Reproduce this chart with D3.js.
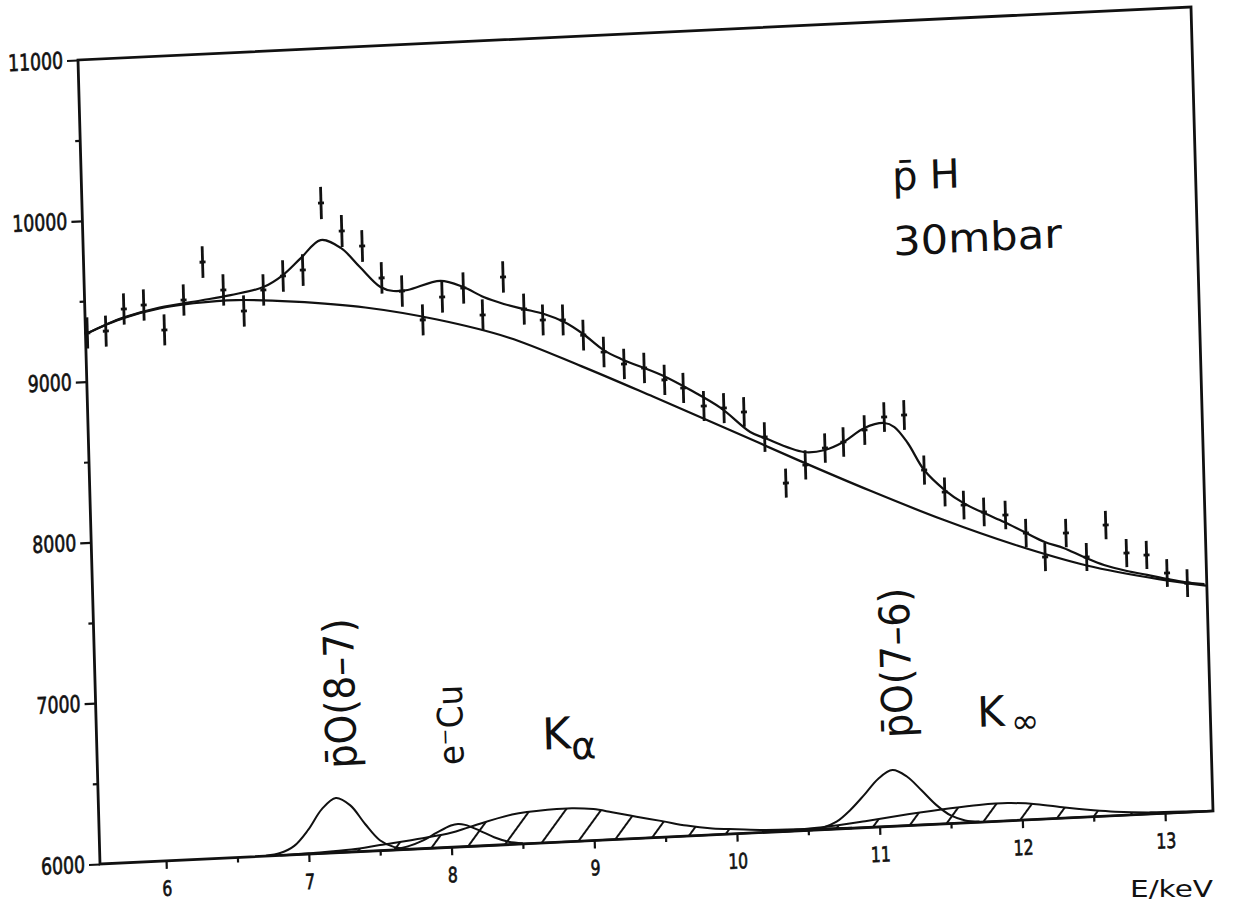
<!DOCTYPE html>
<html>
<head>
<meta charset="utf-8">
<script src="https://cdn.jsdelivr.net/npm/d3@7"></script>
<style>
body { margin: 0; background: #fff; }
svg { display: block; }
text { font-family: "DejaVu Sans", "Liberation Sans", sans-serif; fill: #111; }
</style>
</head>
<body>
<svg id="viz"></svg>
<script>
// measured spectrum (channel energy in keV, counts)
let pointEnergy = [5.55, 5.68, 5.81, 5.95, 6.09, 6.23, 6.37, 6.51, 6.65, 6.79, 6.93, 7.07, 7.21, 7.35, 7.49, 7.62, 7.76, 7.90, 8.04, 8.19,
    8.32, 8.47, 8.61, 8.74, 8.88, 9.02, 9.16, 9.30, 9.44, 9.58, 9.71, 9.85, 9.99, 10.13, 10.27, 10.41, 10.55, 10.69, 10.82, 10.97,
    11.11, 11.25, 11.38, 11.52, 11.65, 11.79, 11.94, 12.08, 12.21, 12.36, 12.50, 12.64, 12.78, 12.92, 13.06, 13.20];
let pointCounts = [9302, 9308, 9440, 9459, 9298, 9478, 9708, 9529, 9392, 9517, 9598, 9629, 10040, 9860, 9761, 9557, 9469, 9284, 9420, 9470,
    9297, 9527, 9321, 9248, 9242, 9142, 9031, 8951, 8920, 8840, 8784, 8666, 8647, 8617, 8455, 8163, 8270, 8369, 8401, 8469,
    8544, 8551, 8203, 8061, 7974, 7925, 7900, 7782, 7627, 7770, 7615, 7808, 7628, 7610, 7492, 7423];

// total fit curve
let fitEnergy = [5.55, 5.68, 5.81, 6.06, 6.35, 6.56, 6.79, 6.93, 7.06, 7.20, 7.34, 7.47, 7.61, 7.70, 7.80, 8.03, 8.19, 8.33, 8.47, 8.61,
    8.75, 8.89, 9.02, 9.16, 9.28, 9.56, 9.76, 9.97, 10.17, 10.27, 10.54, 10.69, 10.82, 10.97, 11.11, 11.18, 11.27, 11.38, 11.52, 11.65,
    11.79, 11.93, 12.07, 12.21, 12.34, 12.48, 12.62, 12.78, 12.92, 13.06, 13.18, 13.32];
let fitCounts = [9300, 9348, 9388, 9438, 9470, 9495, 9535, 9604, 9705, 9810, 9755, 9631, 9501, 9472, 9474, 9521, 9476, 9408, 9359, 9321,
    9285, 9229, 9149, 9043, 8983, 8871, 8769, 8648, 8491, 8449, 8351, 8357, 8401, 8482, 8507, 8479, 8376, 8203, 8073, 7986,
    7918, 7857, 7788, 7721, 7678, 7616, 7560, 7516, 7486, 7455, 7431, 7412];

// background
let bgEnergy = [5.55, 5.68, 5.81, 6.06, 6.3, 6.6, 7.0, 7.5, 8.0, 8.5, 9.0, 9.5, 10.0, 10.5, 11.0, 11.5, 12.0, 12.5, 13.0, 13.33];
let bgCounts = [9300, 9346, 9385, 9433, 9455, 9462, 9435, 9378, 9282, 9148, 8950, 8738, 8522, 8302, 8090, 7890, 7712, 7562, 7456, 7402];

// fit components, drawn from the 6000 floor
let pO87Energy = [6.7, 6.8, 6.9, 7.0, 7.1, 7.2, 7.3, 7.4, 7.5, 7.6, 7.7];
let pO87Counts = [6002, 6015, 6055, 6150, 6275, 6340, 6290, 6170, 6065, 6018, 6003];
let eCuEnergy = [7.6, 7.7, 7.8, 7.9, 8.0, 8.05, 8.1, 8.2, 8.3, 8.4, 8.5];
let eCuCounts = [6004, 6020, 6050, 6095, 6135, 6143, 6135, 6095, 6050, 6018, 6004];
let kaEnergy = [6.8, 7.0, 7.3, 7.5, 7.8, 8.0, 8.13, 8.43, 8.7, 8.85, 9.0, 9.13, 9.3, 9.48, 9.65, 9.83, 10.0, 10.2, 10.5, 10.8];
let kaCounts = [6000, 6005, 6015, 6035, 6065, 6090, 6120, 6185, 6205, 6207, 6195, 6170, 6135, 6100, 6065, 6040, 6028, 6015, 6008, 6003];
let pO76Energy = [10.5, 10.6, 10.7, 10.8, 10.9, 11.0, 11.1, 11.2, 11.3, 11.4, 11.5, 11.6, 11.7];
let pO76Counts = [6003, 6012, 6045, 6115, 6205, 6300, 6349, 6305, 6215, 6120, 6050, 6015, 6004];
let kbEnergy = [10.3, 10.6, 10.9, 11.2, 11.5, 11.7, 11.9, 12.1, 12.3, 12.5, 12.65, 12.9, 13.2, 13.33];
let kbCounts = [6003, 6015, 6040, 6070, 6095, 6107, 6110, 6095, 6065, 6040, 6025, 6010, 6004, 6002];

let xTicks = [6, 7, 8, 9, 10, 11, 12, 13];
let xMinorTicks = [6.5, 7.5, 8.5, 9.5, 10.5, 11.5, 12.5];
let yTicks = [6000, 7000, 8000, 9000, 10000, 11000];
let yMinorTicks = [6500, 7500, 8500, 9500, 10500];

let width = 1233;
let height = 920;
let plotW = 1113;
let plotH = 804;

let svg = d3.select("#viz")
    .attr("width", width)
    .attr("height", height);

// the scanned figure is slightly rotated / sheared
let g = svg.append("g")
    .attr("transform", "matrix(1,-0.0476,0.02736,1,78,60)");

let x = d3.scaleLinear().domain([5.537, 13.336]).range([0, plotW]);
let y = d3.scaleLinear().domain([6000, 11000]).range([plotH, 0]);

let defs = svg.append("defs");
defs.append("pattern")
    .attr("id", "hatch")
    .attr("patternUnits", "userSpaceOnUse")
    .attr("width", 29)
    .attr("height", 29)
    .attr("patternTransform", "rotate(38)")
  .append("line")
    .attr("x1", 2).attr("y1", 0)
    .attr("x2", 2).attr("y2", 29)
    .attr("stroke", "#111")
    .attr("stroke-width", 2);

function zip(es, cs) {
    return es.map((e, i) => ({e: e, c: cs[i]}));
}

let line = d3.line()
    .x(d => x(d.e))
    .y(d => y(d.c))
    .curve(d3.curveCatmullRom.alpha(0.5));

let area = d3.area()
    .x(d => x(d.e))
    .y0(y(6000))
    .y1(d => y(d.c))
    .curve(d3.curveCatmullRom.alpha(0.5));

// hatched K lines
[[kaEnergy, kaCounts], [kbEnergy, kbCounts]].forEach(function(s) {
    g.append("path")
        .datum(zip(s[0], s[1]))
        .attr("d", area)
        .attr("fill", "url(#hatch)")
        .attr("stroke", "#111")
        .attr("stroke-width", 2);
});

[[pO87Energy, pO87Counts], [eCuEnergy, eCuCounts], [pO76Energy, pO76Counts]].forEach(function(s) {
    g.append("path")
        .datum(zip(s[0], s[1]))
        .attr("d", line)
        .attr("fill", "none")
        .attr("stroke", "#111")
        .attr("stroke-width", 2);
});

g.append("path")
    .datum(zip(bgEnergy, bgCounts))
    .attr("d", line)
    .attr("fill", "none")
    .attr("stroke", "#111")
    .attr("stroke-width", 2.2);

g.append("path")
    .datum(zip(fitEnergy, fitCounts))
    .attr("d", line)
    .attr("fill", "none")
    .attr("stroke", "#111")
    .attr("stroke-width", 2.2);

// data points with statistical error bars
let pts = zip(pointEnergy, pointCounts);
g.selectAll("line.err")
    .data(pts)
    .enter().append("line")
    .attr("class", "err")
    .attr("x1", d => x(d.e)).attr("x2", d => x(d.e))
    .attr("y1", d => y(d.c - Math.sqrt(d.c)))
    .attr("y2", d => y(d.c + Math.sqrt(d.c)))
    .attr("stroke", "#111")
    .attr("stroke-width", 2.8);
g.selectAll("line.mid")
    .data(pts)
    .enter().append("line")
    .attr("class", "mid")
    .attr("x1", d => x(d.e) - 3).attr("x2", d => x(d.e) + 3)
    .attr("y1", d => y(d.c)).attr("y2", d => y(d.c))
    .attr("stroke", "#111")
    .attr("stroke-width", 2.8);

// axes
let yAxis = g.append("g")
    .call(d3.axisLeft(y).tickValues(yTicks).tickSize(11).tickPadding(4).tickFormat(d3.format("d")));
yAxis.selectAll("text")
    .attr("font-size", 23)
    .attr("stroke", "#111")
    .attr("stroke-width", 0.7)
    .attr("textLength", d => String(d).length * 11)
    .attr("lengthAdjust", "spacingAndGlyphs");
let yMinor = g.append("g")
    .call(d3.axisLeft(y).tickValues(yMinorTicks).tickSize(5).tickFormat(""));

let xAxis = g.append("g")
    .attr("transform", "translate(0," + plotH + ")")
    .call(d3.axisBottom(x).tickValues(xTicks).tickSize(8).tickPadding(12));
xAxis.selectAll("text")
    .attr("font-size", 21)
    .attr("stroke", "#111")
    .attr("stroke-width", 0.7)
    .attr("textLength", d => String(d).length * 10)
    .attr("lengthAdjust", "spacingAndGlyphs");
let xMinor = g.append("g")
    .attr("transform", "translate(0," + plotH + ")")
    .call(d3.axisBottom(x).tickValues(xMinorTicks).tickSize(5).tickFormat(""));

[yAxis, yMinor, xAxis, xMinor].forEach(function(a) {
    a.select(".domain").remove();
    a.selectAll("line").attr("stroke", "#111").attr("stroke-width", 2.2);
});

g.append("rect")
    .attr("x", 0).attr("y", 0)
    .attr("width", plotW).attr("height", plotH)
    .attr("fill", "none")
    .attr("stroke", "#111")
    .attr("stroke-width", 2.8);

// annotations
let t1 = g.append("text")
    .attr("x", 810).attr("y", 169)
    .attr("font-size", 40);
t1.append("tspan").text("p\u0304");
t1.append("tspan").attr("dx", 12).text("H");

g.append("text")
    .attr("x", 809).attr("y", 234)
    .attr("font-size", 40)
    .attr("textLength", 169)
    .attr("lengthAdjust", "spacingAndGlyphs")
    .text("30mbar");

function vlabel(px, py, len, size, str) {
    g.append("text")
        .attr("transform", "translate(" + px + "," + py + ") rotate(-90)")
        .attr("font-size", size)
        .attr("textLength", len)
        .attr("lengthAdjust", "spacingAndGlyphs")
        .text(str);
}
vlabel(259, 720, 150, 42, "p\u0304O(8\u20137)");
vlabel(815, 716, 150, 42, "p\u0304O(7\u20136)");
vlabel(366, 722, 80, 35, "e\u207BCu");

let ka = g.append("text").attr("x", 445).attr("y", 711).attr("font-size", 44);
ka.append("tspan").text("K");
ka.append("tspan").attr("dy", 11).attr("font-size", 38).text("\u03B1");

let kb = g.append("text").attr("x", 880).attr("y", 709).attr("font-size", 42);
kb.append("tspan").text("K");
kb.append("tspan").attr("dx", 6).attr("dy", 8).attr("font-size", 34).text("\u221E");

svg.append("text")
    .attr("x", 1130).attr("y", 897)
    .attr("font-family", "DejaVu Sans Mono, monospace")
    .attr("font-size", 23)
    .attr("textLength", 83)
    .attr("lengthAdjust", "spacingAndGlyphs")
    .text("E/keV");
</script>
</body>
</html>
